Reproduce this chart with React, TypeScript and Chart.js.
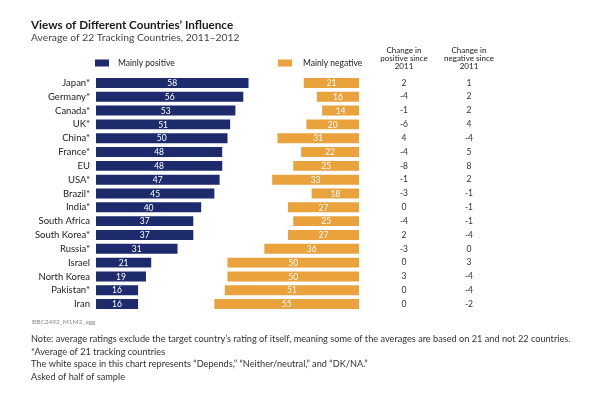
import { useEffect, useRef } from "react";
import { Chart, registerables } from "chart.js";

Chart.register(...registerables);

// dados do gráfico
const countries = ["Japan*", "Germany*", "Canada*", "UK*", "China*", "France*", "EU", "USA*", "Brazil*", "India*", "South Africa", "South Korea*", "Russia*", "Israel", "North Korea", "Pakistan*", "Iran"];
const positive = [58, 56, 53, 51, 50, 48, 48, 47, 45, 40, 37, 37, 31, 21, 19, 16, 16];
const negative = [21, 16, 14, 20, 31, 22, 25, 33, 18, 27, 25, 27, 36, 50, 50, 51, 55];
const changePositive = ["2", "-4", "-1", "-6", "4", "-4", "-8", "-1", "-3", "0", "-4", "2", "-3", "0", "3", "0", "0"];
const changeNegative = ["1", "2", "2", "4", "-4", "5", "8", "2", "-1", "-1", "-1", "-4", "0", "3", "-4", "-4", "-2"];
const seriesLabels = ["Mainly positive", "Mainly negative"];
const columnHeaders = [
  ["Change in", "positive since", "2011"],
  ["Change in", "negative since", "2011"],
];
const title = "Views of Different Countries\u2019 Influence";
const subtitle = "Average of 22 Tracking Countries, 2011\u20132012";
const sourceCode = "BBC2492_M1M2_agg";
const notes = [
  "Note: average ratings exclude the target country\u2019s rating of itself, meaning some of the averages are based on 21 and not 22 countries.",
  "*Average of 21 tracking countries",
  "The white space in this chart represents \u201cDepends,\u201d \u201cNeither/neutral,\u201d and \u201cDK/NA.\u201d",
  "Asked of half of sample",
];

const NAVY = "#1d2b6d";
const ORANGE = "#eaa23c";
const FONT = "Lato, 'Open Sans', sans-serif";

// plugin que desenha título, legenda, rótulos, colunas e notas
const decorPlugin = {
  id: "decor",
  afterDatasetsDraw(chart: any) {
    const ctx = chart.ctx as CanvasRenderingContext2D;
    const yScale = chart.scales.y;
    ctx.save();

    // título e subtítulo
    ctx.textBaseline = "middle";
    ctx.textAlign = "left";
    ctx.fillStyle = "#1a1a1a";
    ctx.font = `bold 11.7px ${FONT}`;
    ctx.fillText(title, 31, 25);
    ctx.fillStyle = "#444";
    ctx.font = `10.3px ${FONT}`;
    ctx.fillText(subtitle, 31, 38);

    // legenda
    const legendX = [[95, 118], [278, 303]];
    const colors = [NAVY, ORANGE];
    ctx.font = `8.5px ${FONT}`;
    seriesLabels.forEach((lab, i) => {
      ctx.fillStyle = colors[i];
      ctx.fillRect(legendX[i][0], 59.5, 14, 7);
      ctx.fillStyle = "#222";
      ctx.fillText(lab, legendX[i][1], 63);
    });

    // cabeçalhos das colunas de mudança
    const colX = [404, 469];
    ctx.textAlign = "center";
    ctx.font = `8px ${FONT}`;
    columnHeaders.forEach((lines, c) => {
      lines.forEach((line, k) => {
        ctx.fillText(line, colX[c], 50 + k * 8.3);
      });
    });

    // valores das colunas
    ctx.font = `8.5px ${FONT}`;
    ctx.fillStyle = "#333";
    countries.forEach((_, j) => {
      const y = yScale.getPixelForValue(j);
      ctx.fillText(changePositive[j], colX[0], y);
      ctx.fillText(changeNegative[j], colX[1], y);
    });

    // rótulos dentro das barras
    ctx.fillStyle = "#ffffff";
    ctx.font = `8.5px ${FONT}`;
    chart.data.datasets.forEach((ds: any, i: number) => {
      const meta = chart.getDatasetMeta(i);
      meta.data.forEach((bar: any, j: number) => {
        const props = bar.getProps(["x", "base", "y"], true);
        ctx.fillText(String(ds.data[j]), (props.x + props.base) / 2, props.y + 0.5);
      });
    });

    // notas de rodapé
    ctx.textAlign = "left";
    ctx.fillStyle = "#888";
    ctx.font = `6.5px ${FONT}`;
    ctx.fillText(sourceCode, 32, 322);
    ctx.fillStyle = "#333";
    ctx.font = `9.2px ${FONT}`;
    notes.forEach((n, k) => ctx.fillText(n, 31, 339 + k * 12.7));

    ctx.restore();
  },
};

export default function App() {
  const canvasRef = useRef<HTMLCanvasElement | null>(null);
  const chartRef = useRef<Chart | null>(null);

  useEffect(() => {
    if (chartRef.current) chartRef.current.destroy();
    if (!canvasRef.current) return;

    chartRef.current = new Chart(canvasRef.current, {
      type: "bar",
      data: {
        labels: countries,
        datasets: [
          {
            label: seriesLabels[0],
            data: positive,
            backgroundColor: NAVY,
            xAxisID: "x",
          },
          {
            label: seriesLabels[1],
            data: negative,
            backgroundColor: ORANGE,
            xAxisID: "x2",
          },
        ],
      },
      options: {
        indexAxis: "y",
        animation: false,
        responsive: true,
        maintainAspectRatio: false,
        grouped: false,
        barPercentage: 0.72,
        categoryPercentage: 1,
        layout: { padding: { left: 0, right: 241, top: 76, bottom: 89 } },
        plugins: {
          legend: { display: false },
          tooltip: { enabled: false },
        },
        scales: {
          x: { display: false, min: 0, max: 100 },
          x2: { display: false, min: 0, max: 100, reverse: true },
          y: {
            grid: { display: false, drawTicks: false },
            border: { display: false },
            ticks: {
              autoSkip: false,
              padding: 6,
              color: "#222",
              font: { family: FONT, size: 9.5 },
            },
            afterFit: (scale: any) => {
              scale.width = 96;
            },
          },
        },
      } as any,
      plugins: [decorPlugin],
    });

    return () => {
      if (chartRef.current) {
        chartRef.current.destroy();
        chartRef.current = null;
      }
    };
  }, []);

  return (
    <div style={{ position: "fixed", left: 0, top: 0, width: 600, height: 400, background: "#fff" }}>
      <canvas ref={canvasRef}></canvas>
    </div>
  );
}
